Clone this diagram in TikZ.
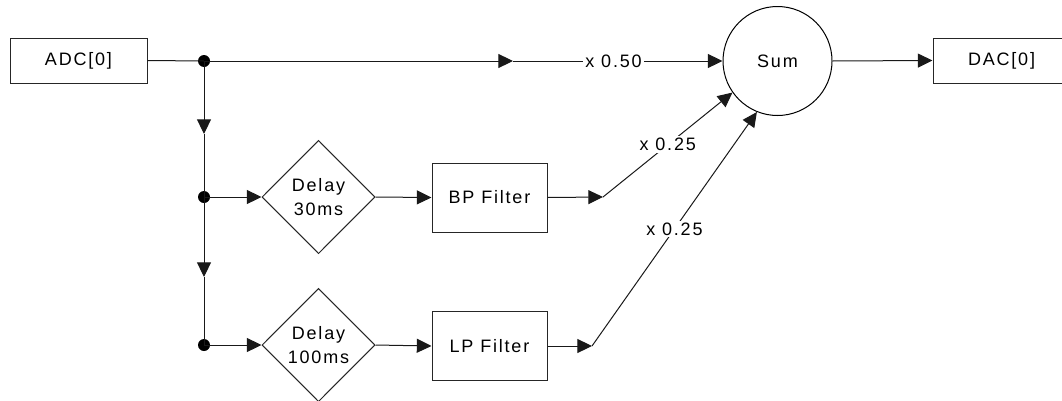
\documentclass[tikz,border=0pt]{standalone}
\usepackage{fontspec}
\setmainfont{Liberation Sans}[LetterSpace=10]
\usetikzlibrary{shapes.geometric,arrows.meta}
\begin{document}
\begin{tikzpicture}[x=0.75pt,y=-0.75pt,
  font=\fontsize{13.5pt}{18pt}\selectfont,
  wire/.style={draw=black!90, line width=0.75pt},
  arr/.style={wire, -{Triangle[length=11pt,width=10.5pt]}},
  block/.style={draw=black!85, line width=0.75pt, rectangle, inner sep=0pt},
  iobox/.style={block, minimum width=102.75pt, minimum height=33.75pt},
  filterbox/.style={block, minimum width=86.25pt, minimum height=51.75pt},
  delaybox/.style={draw=black!85, line width=0.75pt, diamond, inner sep=0pt,
                   minimum width=84.75pt, minimum height=85pt, align=center},
  sumnode/.style={draw=black, line width=0.75pt, circle, minimum size=81.75pt, inner sep=0pt},
  junction/.style={circle, fill=black, minimum size=9pt, inner sep=0pt},
  gain/.style={fill=white, inner sep=1.5pt}
]
\useasboundingbox (0,0) rectangle (1062,400);

% blocks
\node[iobox] (adc) at (78.5,60.5) {ADC[0]};
\node[sumnode] (sum) at (777.5,61) {Sum};
\node[iobox] (dac) at (1001.5,60.5) {DAC[0]};
\node[delaybox] (d1) at (318.5,197) {Delay\\30ms};
\node[delaybox] (d2) at (318.5,345) {Delay\\100ms};
\node[filterbox] (bp) at (489.5,197.5) {BP Filter};
\node[filterbox] (lp) at (489.5,346) {LP Filter};

% branch points
\node[junction] (j1) at (204,61) {};
\node[junction] (j2) at (204,197) {};
\node[junction] (j3) at (204,345) {};

% intermediate arrow positions
\coordinate (m0) at (513,61);
\coordinate (v1) at (204,134);
\coordinate (v2) at (204,277);
\coordinate (bpo) at (603,197);
\coordinate (lpo) at (592,346);

% direct path
\draw[wire] (adc.east) -- (j1.center);
\draw[arr] (j1.center) -- (m0);
\draw[arr] (m0) -- node[gain, pos=0.48] {x 0.50} (sum.west);
\draw[arr] (sum.east) -- (dac.west);

% vertical trunk
\draw[arr] (j1.center) -- (v1);
\draw[wire] (v1) -- (j2.center);
\draw[arr] (j2.center) -- (v2);
\draw[wire] (v2) -- (j3.center);

% delayed branches
\draw[arr] (j2.center) -- (d1.west);
\draw[arr] (d1.east) -- (bp.west);
\draw[arr] (bp.east) -- (bpo);
\draw[arr] (bpo) -- node[gain] {x 0.25} (sum.215);

\draw[arr] (j3.center) -- (d2.west);
\draw[arr] (d2.east) -- (lp.west);
\draw[arr] (lp.east) -- (lpo);
\draw[arr] (lpo) -- node[gain] {x 0.25} (sum.248);
\end{tikzpicture}
\end{document}
